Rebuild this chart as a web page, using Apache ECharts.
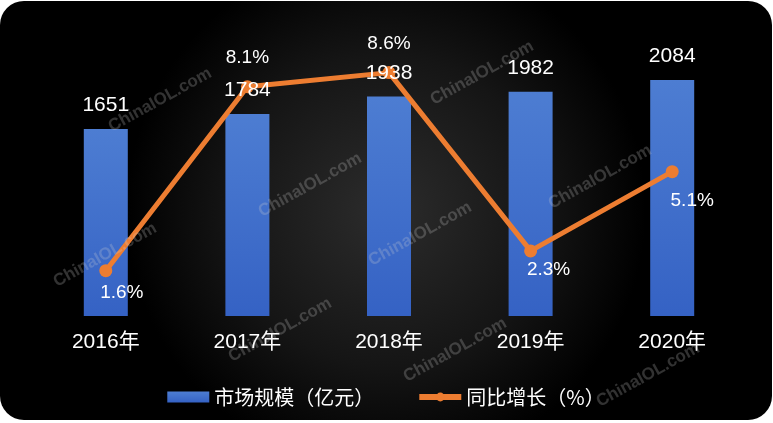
<!DOCTYPE html>
<html>
<head>
<meta charset="utf-8">
<script src="https://cdn.jsdelivr.net/npm/echarts@6/dist/echarts.min.js"></script>
<style>
  html, body { margin: 0; padding: 0; background: #fff; }
  #chart {
    position: absolute; left: 0; top: 1px;
    width: 772px; height: 419px;
    border-radius: 24px; overflow: hidden;
  }
</style>
</head>
<body>
<div id="chart"></div>
<script>
// 数据
var years = ['2016年', '2017年', '2018年', '2019年', '2020年'];
var marketSize = [1651, 1784, 1938, 1982, 2084];   // 亿元
var growthRate = [1.6, 8.1, 8.6, 2.3, 5.1];        // %

// 折线标签位置（跟原图一致）
var rateLabelPos = [
  { position: 'bottom', offset: [16, 1] },
  { position: 'top', offset: [0, -8] },
  { position: 'top', offset: [0, -8] },
  { position: 'bottom', offset: [18, -2] },
  { position: 'bottom', offset: [20, 8] }
];

// 水印
var marks = [[160, 99], [310, 184], [105, 254], [280, 329], [482, 72], [600, 176], [420, 233], [455, 349], [648, 374]];

var chart = echarts.init(document.getElementById('chart'));

var numFont = '"Liberation Sans", "Noto Sans CJK SC", sans-serif';

var option = {
  backgroundColor: {
    type: 'radial', x: 0.5, y: 0.5, r: 0.62,
    colorStops: [
      { offset: 0, color: '#2c2c2c' },
      { offset: 0.6, color: '#151515' },
      { offset: 1, color: '#000000' }
    ]
  },
  animation: false,
  grid: { left: 35, right: 29, top: 32, bottom: 104 },
  legend: {
    left: 'center',
    top: 381,
    itemWidth: 42,
    itemHeight: 11,
    itemGap: 42,
    textStyle: { color: '#fff', fontSize: 20, fontFamily: '"Noto Sans CJK SC", sans-serif' },
    data: [
      { name: '市场规模（亿元）', icon: 'rect' },
      { name: '同比增长（%）', lineStyle: { width: 6 } }
    ]
  },
  xAxis: {
    type: 'category',
    data: years,
    axisLine: { show: false },
    axisTick: { show: false },
    axisLabel: { color: '#fff', fontSize: 21, margin: 16, fontFamily: numFont }
  },
  yAxis: [
    { type: 'value', min: 0, max: 2500, show: false, splitLine: { show: false } },
    { type: 'value', min: 0, max: 10, show: false, splitLine: { show: false } }
  ],
  series: [
    {
      name: '市场规模（亿元）',
      type: 'bar',
      barWidth: 44,
      data: marketSize,
      itemStyle: {
        color: {
          type: 'linear', x: 0, y: 0, x2: 0, y2: 1,
          colorStops: [
            { offset: 0, color: '#4d7dd2' },
            { offset: 1, color: '#3562c4' }
          ]
        }
      }
    },
    {
      name: '同比增长（%）',
      type: 'line',
      yAxisIndex: 1,
      z: 5,
      data: growthRate.map(function (v, i) {
        return { value: v, label: rateLabelPos[i] };
      }),
      symbol: 'circle',
      symbolSize: 13,
      lineStyle: { color: '#ED7D31', width: 5 },
      itemStyle: { color: '#ED7D31' },
      label: {
        show: true,
        color: '#fff', fontSize: 19, fontFamily: numFont,
        formatter: function (p) { return p.value + '%'; }
      }
    },
    {
      // 柱子数值标签，放在折线上层
      name: 'barLabel',
      type: 'bar',
      barWidth: 44,
      barGap: '-100%',
      z: 10,
      silent: true,
      data: marketSize,
      itemStyle: { color: 'rgba(0,0,0,0)' },
      label: {
        show: true, position: 'top', distance: 13,
        color: '#fff', fontSize: 21, fontFamily: numFont
      }
    }
  ],
  graphic: marks.map(function (m) {
    return {
      type: 'text',
      x: m[0], y: m[1],
      rotation: Math.PI / 6.2,
      z: 100,
      silent: true,
      style: {
        text: 'ChinaIOL.com',
        fill: 'rgba(210,210,210,0.24)',
        font: 'bold 17px "Liberation Sans", Arial, sans-serif',
        textAlign: 'center',
        textVerticalAlign: 'middle'
      }
    };
  })
};

chart.setOption(option);
</script>
</body>
</html>
